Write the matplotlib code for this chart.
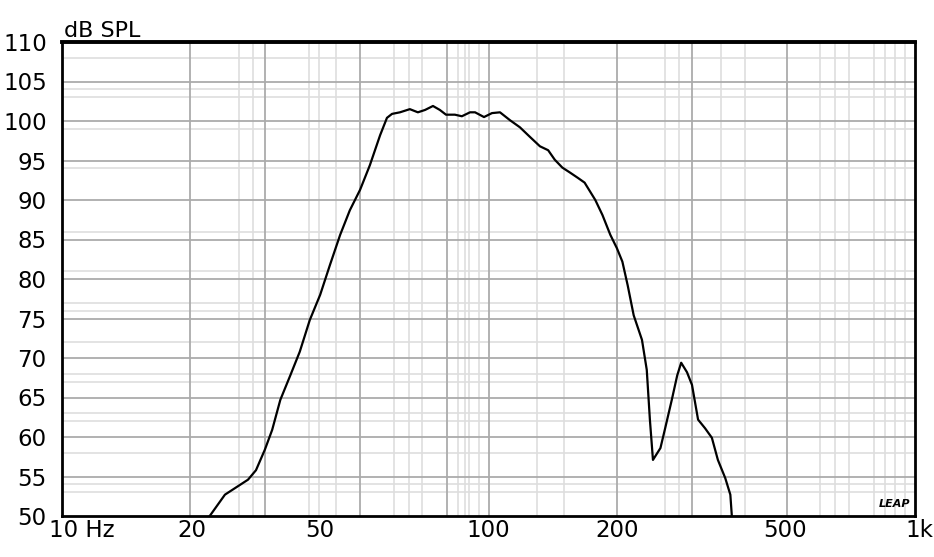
import numpy as np
import matplotlib
matplotlib.use("Agg")
import matplotlib.pyplot as plt
import matplotlib.transforms as mtransforms

# frequency response (Hz, dB SPL)
freq = [22.2, 24.1, 25.4, 27.3, 28.5, 29.9, 31.1, 32.5, 34.3, 36.1, 38.1, 40.3,
        42.5, 44.9, 47.3, 50.0, 52.7, 55.7, 57.8, 59.4, 62.0, 65.4, 68.3, 71.0,
        74.1, 76.9, 79.5, 83.4, 86.6, 90.5, 93.0, 97.6, 101.9, 106.4, 112.3, 118.5,
        125, 132, 138, 143, 149, 155, 162, 168, 178, 185, 193, 200, 206, 212, 219,
        229, 235, 239, 243, 253, 259, 269, 277, 283, 292, 300, 310, 322, 334, 345,
        359, 369, 372]
spl = [50.0, 52.7, 53.5, 54.6, 55.8, 58.4, 60.9, 64.7, 67.8, 70.8, 74.8, 78.0,
       81.8, 85.6, 88.7, 91.3, 94.4, 98.2, 100.4, 100.9, 101.1, 101.5, 101.1, 101.4,
       101.9, 101.4, 100.8, 100.8, 100.6, 101.1, 101.1, 100.5, 101.0, 101.1, 100.1, 99.2,
       98.0, 96.8, 96.3, 95.1, 94.1, 93.5, 92.8, 92.2, 90.0, 88.1, 85.6, 83.9, 82.2, 79.2, 75.4,
       72.3, 68.5, 62.2, 57.1, 58.6, 60.9, 64.7, 67.8, 69.4, 68.2, 66.6, 62.2, 61.1, 59.9, 57.1,
       54.8, 52.7, 50.0]

y_ticks = [50, 55, 60, 65, 70, 75, 80, 85, 90, 95, 100, 105, 110]
x_labels = ["10 Hz", "20", "50", "100", "200", "500", "1k"]
x_label_pos = [11.1, 20.2, 40.3, 100, 200, 495, 1027]

fig = plt.figure(figsize=(9.34, 5.57), dpi=100)
ax = fig.add_axes([62/934, 41/557, 853/934, 474/557])
ax.set_xscale("log")
ax.set_xlim(10, 1000)
ax.set_ylim(50, 110)

# grid (light lines first, then darker ones)
light_x = [26, 28, 38, 40, 44, 60, 65, 70, 85, 88, 90, 95, 130, 150, 260, 280,
           350, 400, 600, 650, 700, 800, 850, 900, 950]
dark_x = [20, 30, 50, 80, 100, 200, 300, 500]
light_y = [108, 104, 103, 99, 94, 86, 81, 77, 76, 72, 68, 67, 63, 62, 58, 54, 53]
for v in light_x:
    ax.axvline(v, color="#dedede", lw=1.2, zorder=1)
for v in light_y:
    ax.axhline(v, color="#dedede", lw=1.2, zorder=1)
for v in dark_x:
    ax.axvline(v, color="#ababab", lw=1.3, zorder=1)
for v in y_ticks[1:-1]:
    ax.axhline(v, color="#ababab", lw=1.3, zorder=1)

ax.plot(freq, spl, color="black", lw=1.6, zorder=3)

ax.set_yticks(y_ticks)
ax.set_yticklabels([str(v) for v in y_ticks], fontsize=16.5)
ax.tick_params(axis="y", length=0, pad=11)
ax.set_xticks([])
ax.xaxis.set_minor_locator(matplotlib.ticker.NullLocator())

trans = mtransforms.blended_transform_factory(ax.transData, ax.transAxes)
for lab, pos in zip(x_labels, x_label_pos):
    ax.text(pos, -0.03, lab, transform=trans, ha="center", va="center", fontsize=16.5)

ax.text(0.002, 1.003, "dB SPL", transform=ax.transAxes, ha="left", va="bottom", fontsize=16)
ax.text(0.995, 0.015, "LEAP", transform=ax.transAxes, ha="right", va="bottom",
        fontsize=8, fontweight="bold", style="italic")

for s in ax.spines.values():
    s.set_linewidth(2)
    s.set_color("black")
ax.spines["top"].set_linewidth(2.8)

fig.savefig("out.png", dpi=100)
